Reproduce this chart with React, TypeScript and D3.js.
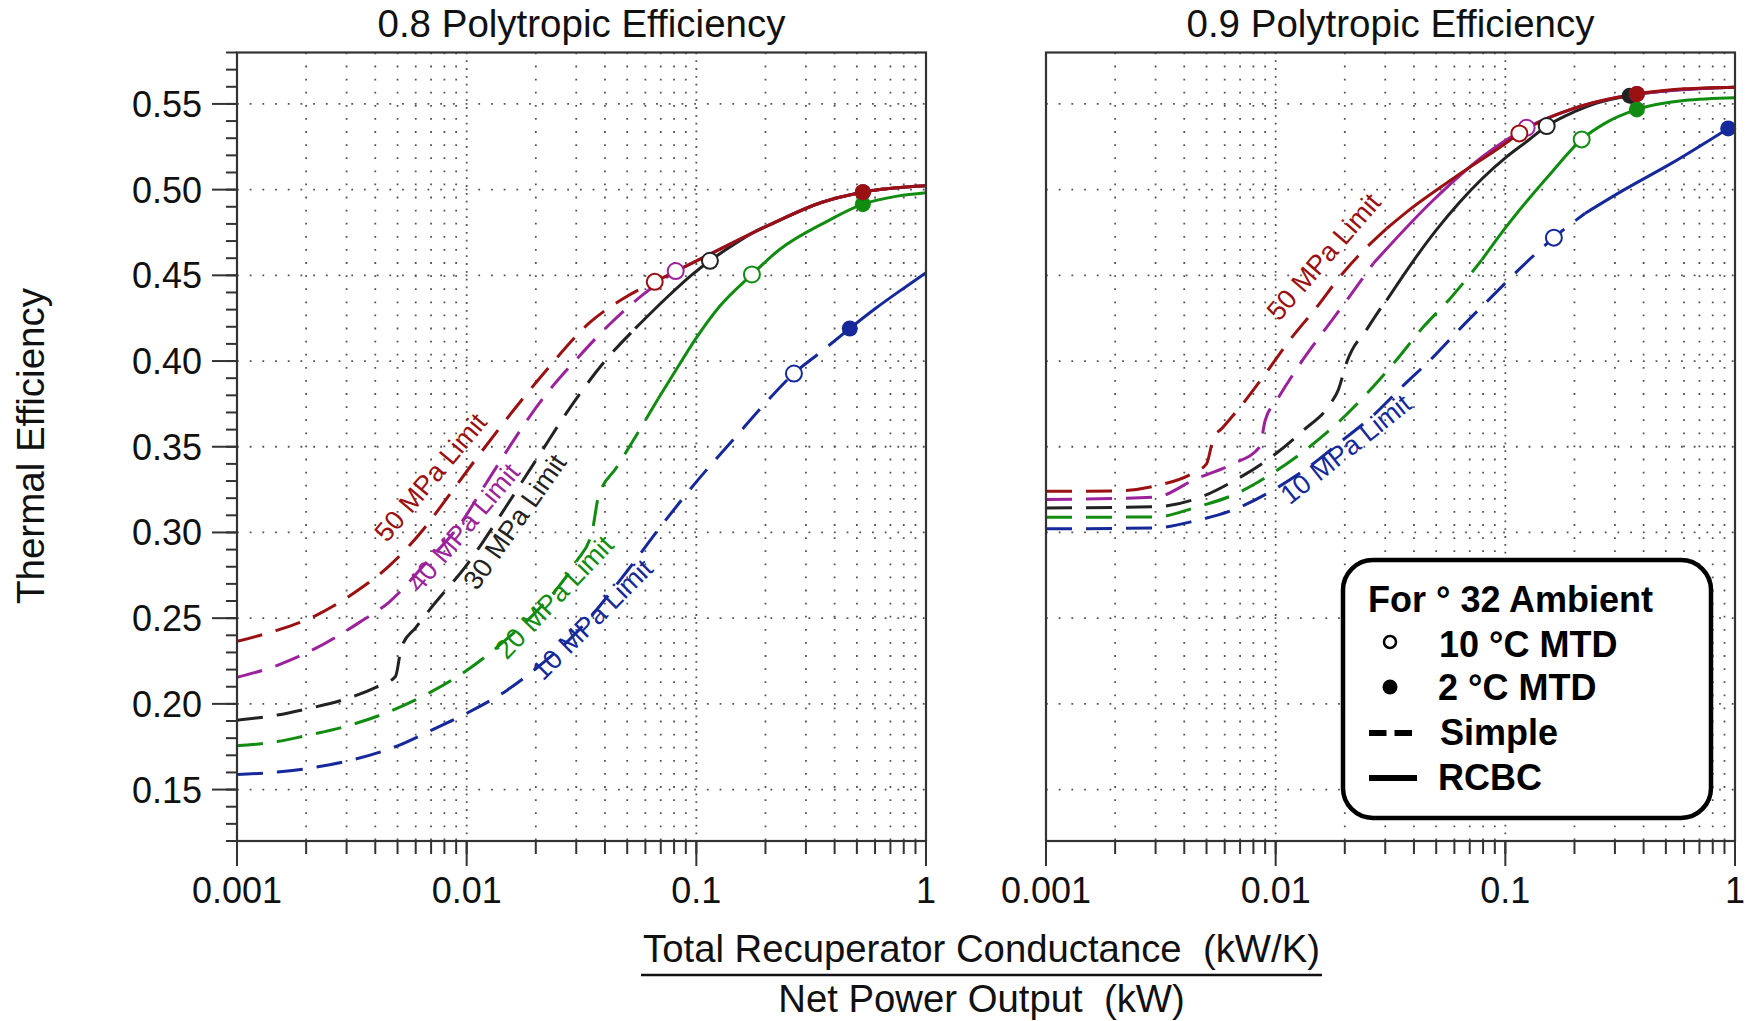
import React from "react";
import * as d3 from "d3";

type Pt = [number, number];

// ---------- shared categories ----------
const pressures = ["10", "20", "30", "40", "50"];
const pressureColors = ["#15299b", "#118c11", "#222222", "#9c229c", "#9b1010"];
const yTickLabels = [0.15, 0.2, 0.25, 0.3, 0.35, 0.4, 0.45, 0.5, 0.55];
const xTickLabels = [0.001, 0.01, 0.1, 1];
const xDomain: [number, number] = [0.001, 1];
const yDomain: [number, number] = [0.12, 0.58];

// ---------- 0.8 polytropic efficiency (left panel) ----------
const e08_10_simple: Pt[] = [[0.001, 0.1588], [0.0015, 0.1602], [0.002, 0.1622], [0.003, 0.1665], [0.005, 0.1755], [0.007, 0.1845], [0.01, 0.1945], [0.015, 0.208], [0.02, 0.2205], [0.03, 0.2415], [0.05, 0.2775], [0.07, 0.3035], [0.1, 0.3295], [0.15, 0.3565], [0.2, 0.3755], [0.266, 0.3927], [0.35, 0.4055], [0.4656, 0.419]];
const e08_10_rcbc: Pt[] = [[0.4656, 0.419], [0.6, 0.4305], [0.8, 0.4425], [1, 0.4515]];
const e08_20_simple: Pt[] = [[0.001, 0.1756], [0.0015, 0.178], [0.002, 0.1815], [0.003, 0.187], [0.005, 0.1975], [0.007, 0.207], [0.01, 0.2195], [0.015, 0.238], [0.02, 0.2535], [0.025, 0.268], [0.03, 0.283], [0.0351, 0.3], [0.0375, 0.321], [0.045, 0.338], [0.055, 0.357], [0.0682, 0.378]];
const e08_20_rcbc: Pt[] = [[0.0682, 0.378], [0.08, 0.393], [0.1, 0.4135], [0.1256, 0.4315], [0.1746, 0.4505], [0.229, 0.4648], [0.3706, 0.4815], [0.531, 0.4915], [0.75, 0.4962], [1, 0.4982]];
const e08_30_simple: Pt[] = [[0.001, 0.1905], [0.0015, 0.1935], [0.002, 0.197], [0.003, 0.203], [0.004, 0.2095], [0.0049, 0.216], [0.0052, 0.233], [0.006, 0.2445], [0.007, 0.256], [0.01, 0.281], [0.015, 0.316], [0.02, 0.342], [0.03, 0.378], [0.04, 0.4], [0.0542, 0.419]];
const e08_30_rcbc: Pt[] = [[0.0542, 0.419], [0.075, 0.4375], [0.095, 0.45], [0.1146, 0.4585], [0.14, 0.4665], [0.18, 0.4755], [0.2164, 0.4805], [0.35, 0.4925], [0.531, 0.4985], [1, 0.5022]];
const e08_40_simple: Pt[] = [[0.001, 0.2155], [0.0015, 0.2225], [0.0021, 0.231], [0.0034, 0.2474], [0.0046, 0.2594], [0.0066, 0.2817], [0.0095, 0.306], [0.0121, 0.3283], [0.022, 0.38], [0.031, 0.403], [0.0427, 0.4225], [0.0593, 0.4393], [0.0813, 0.4525]];
const e08_40_rcbc: Pt[] = [[0.0813, 0.4525], [0.1114, 0.4615], [0.2164, 0.4805], [0.35, 0.4925], [0.531, 0.4985], [1, 0.5022]];
const e08_50_simple: Pt[] = [[0.001, 0.2365], [0.0015, 0.243], [0.0022, 0.2515], [0.0033, 0.2655], [0.0046, 0.2805], [0.0065, 0.302], [0.008, 0.318], [0.011, 0.343], [0.0153, 0.368], [0.0214, 0.392], [0.0346, 0.4228], [0.0481, 0.4365], [0.0659, 0.4462]];
const e08_50_rcbc: Pt[] = [[0.0659, 0.4462], [0.1114, 0.4615], [0.2164, 0.4805], [0.35, 0.4925], [0.531, 0.4985], [1, 0.5022]];
const e08_open: Pt[] = [[0.266, 0.3927], [0.1746, 0.4505], [0.1146, 0.4585], [0.0813, 0.4525], [0.0659, 0.4462]];
const e08_filled: Pt[] = [[0.4656, 0.419], [0.531, 0.4915], [0.531, 0.4985], [0.531, 0.4985], [0.531, 0.4985]];
const e08_labelAt: Pt[] = [[0.0215, 0.2129], [0.01496, 0.2252], [0.0111, 0.2655], [0.00627, 0.2643], [0.0045, 0.2935]];
const e08_labelAngle = [-45, -46.5, -55, -50, -50];

// ---------- 0.9 polytropic efficiency (right panel) ----------
const e09_10_simple: Pt[] = [[0.001, 0.3021], [0.003, 0.3027], [0.0045, 0.3069], [0.0067, 0.3138], [0.0098, 0.3249], [0.0139, 0.3381], [0.019, 0.3525], [0.0266, 0.3683], [0.036, 0.3858], [0.0485, 0.4023], [0.0645, 0.4198], [0.0871, 0.4374], [0.12, 0.456], [0.1627, 0.472], [0.222, 0.4861]];
const e09_10_rcbc: Pt[] = [[0.222, 0.4861], [0.327, 0.4997], [0.528, 0.5153], [0.934, 0.5357]];
const e09_20_simple: Pt[] = [[0.001, 0.3089], [0.003, 0.309], [0.0045, 0.3147], [0.0067, 0.3225], [0.0096, 0.3342], [0.0134, 0.3478], [0.0188, 0.3644], [0.0249, 0.3809], [0.033, 0.3994], [0.0439, 0.4198], [0.0574, 0.4364], [0.079, 0.459]];
const e09_20_rcbc: Pt[] = [[0.079, 0.459], [0.0947, 0.4735], [0.125, 0.4938], [0.16, 0.5105], [0.215, 0.5293], [0.27, 0.5385], [0.374, 0.5468], [0.6, 0.552], [1, 0.5536]];
const e09_30_simple: Pt[] = [[0.001, 0.3143], [0.003, 0.315], [0.0045, 0.3196], [0.0067, 0.3307], [0.0095, 0.3436], [0.0132, 0.3595], [0.0175, 0.376], [0.0187, 0.3829], [0.0204, 0.3994], [0.0253, 0.4198], [0.0289, 0.4315], [0.0304, 0.4354]];
const e09_30_rcbc: Pt[] = [[0.0304, 0.4354], [0.0398, 0.4585], [0.0501, 0.4765], [0.0631, 0.4925], [0.0794, 0.5065], [0.1, 0.5185], [0.126, 0.5288], [0.1514, 0.5371], [0.2, 0.5455], [0.25, 0.5505], [0.348, 0.5548], [0.6, 0.5585], [1, 0.5598]];
const e09_40_simple: Pt[] = [[0.001, 0.3192], [0.0017, 0.3196], [0.003, 0.3206], [0.0045, 0.3313], [0.0065, 0.34], [0.0085, 0.3497], [0.009, 0.3653], [0.0101, 0.377], [0.0128, 0.3985], [0.0159, 0.416], [0.0204, 0.4354], [0.0266, 0.4569]];
const e09_40_rcbc: Pt[] = [[0.0266, 0.4569], [0.0485, 0.4938], [0.08, 0.5195], [0.1238, 0.5361], [0.2, 0.5475], [0.374, 0.5558], [1, 0.5598]];
const e09_50_simple: Pt[] = [[0.001, 0.324], [0.002, 0.3242], [0.003, 0.3272], [0.0043, 0.3342], [0.005, 0.34], [0.00535, 0.3546], [0.0059, 0.3614], [0.007, 0.3731], [0.0088, 0.3906], [0.0115, 0.4121], [0.0151, 0.4315], [0.019, 0.449], [0.025, 0.4666], [0.0304, 0.4773]];
const e09_50_rcbc: Pt[] = [[0.0304, 0.4773], [0.0376, 0.4875], [0.0608, 0.5075], [0.0983, 0.5262], [0.1151, 0.5328], [0.2, 0.5475], [0.374, 0.5558], [0.6, 0.5588], [1, 0.5598]];
const e09_open: Pt[] = [[0.1627, 0.472], [0.215, 0.5293], [0.1514, 0.5371], [0.1238, 0.5361], [0.1151, 0.5328]];
const e09_filled: Pt[] = [[0.934, 0.5357], [0.374, 0.5468], [0.348, 0.5548], [0.374, 0.5558], [0.374, 0.5558]];
const e09_labelAt: Pt[] = [[0.01153, 0.3157], [0.01033, 0.4226]];
const e09_labelIdx = [0, 4];
const e09_labelAngle = [-38.5, -49];

// ---------- layout / style ----------
const W = 1752;
const H = 1021;
const TOP = 52.5;
const BOTTOM = 841;
const FONT = "'Liberation Sans', Arial, Helvetica, sans-serif";
const DASH = "26 14";

type PanelSpec = {
  x0: number;
  x1: number;
  title: string;
  simple: Pt[][];
  rcbc: Pt[][];
  open: Pt[];
  filled: Pt[];
  labelAt: Pt[];
  labelIdx: number[];
  labelAngle: number[];
  yAxis: boolean;
};

const panelSpecs: PanelSpec[] = [
  {
    x0: 237,
    x1: 926,
    title: "0.8 Polytropic Efficiency",
    simple: [e08_10_simple, e08_20_simple, e08_30_simple, e08_40_simple, e08_50_simple],
    rcbc: [e08_10_rcbc, e08_20_rcbc, e08_30_rcbc, e08_40_rcbc, e08_50_rcbc],
    open: e08_open,
    filled: e08_filled,
    labelAt: e08_labelAt,
    labelIdx: [0, 1, 2, 3, 4],
    labelAngle: e08_labelAngle,
    yAxis: true,
  },
  {
    x0: 1046,
    x1: 1735,
    title: "0.9 Polytropic Efficiency",
    simple: [e09_10_simple, e09_20_simple, e09_30_simple, e09_40_simple, e09_50_simple],
    rcbc: [e09_10_rcbc, e09_20_rcbc, e09_30_rcbc, e09_40_rcbc, e09_50_rcbc],
    open: e09_open,
    filled: e09_filled,
    labelAt: e09_labelAt,
    labelIdx: e09_labelIdx,
    labelAngle: e09_labelAngle,
    yAxis: false,
  },
];

function Panel({ spec, id }: { spec: PanelSpec; id: string }) {
  const xs = d3.scaleLog().domain(xDomain).range([spec.x0, spec.x1]);
  const ys = d3.scaleLinear().domain(yDomain).range([BOTTOM, TOP]);
  const line = d3
    .line<Pt>()
    .x((d) => xs(d[0]))
    .y((d) => ys(d[1]))
    .curve(d3.curveMonotoneX);
  const xMinor = xs.ticks().filter((t) => t > xDomain[0] * 1.0001 && t < xDomain[1] * 0.9999);
  const yMinor = d3.range(0, 47).map((i) => +(0.12 + i * 0.01).toFixed(2));
  const order = [0, 1, 2, 3, 4];
  return (
    <g>
      <defs>
        <clipPath id={id}>
          <rect x={spec.x0} y={TOP} width={spec.x1 - spec.x0} height={BOTTOM - TOP} />
        </clipPath>
      </defs>
      {/* grid */}
      <g stroke="#555" strokeWidth={1.8}>
        {yTickLabels.map((v) => (
          <line key={"h" + v} x1={spec.x0} x2={spec.x1} y1={ys(v)} y2={ys(v)} strokeDasharray="1.8 10.9" />
        ))}
        {xMinor.map((t) => {
          const major = Math.abs(Math.log10(t) - Math.round(Math.log10(t))) < 1e-6;
          return (
            <line
              key={"v" + t}
              x1={xs(t)}
              x2={xs(t)}
              y1={TOP}
              y2={BOTTOM}
              strokeDasharray={major ? "1.8 6" : "1.8 11.3"}
            />
          );
        })}
      </g>
      {/* curves */}
      <g clipPath={`url(#${id})`} fill="none" strokeWidth={3} strokeLinecap="butt">
        {order.map((i) => (
          <g key={"c" + i} stroke={pressureColors[i]}>
            <path d={line(spec.simple[i]) || ""} strokeDasharray={DASH} />
            <path d={line(spec.rcbc[i]) || ""} />
          </g>
        ))}
      </g>
      {/* markers */}
      <g>
        {order.map((i) => (
          <circle key={"f" + i} cx={xs(spec.filled[i][0])} cy={ys(spec.filled[i][1])} r={8} fill={pressureColors[i]} />
        ))}
        {order.map((i) => (
          <circle
            key={"o" + i}
            cx={xs(spec.open[i][0])}
            cy={ys(spec.open[i][1])}
            r={8}
            fill="#fff"
            stroke={pressureColors[i]}
            strokeWidth={2}
          />
        ))}
      </g>
      {/* limit labels */}
      {spec.labelAt.map((p, k) => {
        const i = spec.labelIdx[k];
        return (
          <text
            key={"l" + k}
            transform={`translate(${xs(p[0])},${ys(p[1])}) rotate(${spec.labelAngle[k]})`}
            fill={pressureColors[i]}
            fontSize={27}
            fontFamily={FONT}
          >
            {pressures[i]} MPa Limit
          </text>
        );
      })}
      {/* frame */}
      <rect x={spec.x0} y={TOP} width={spec.x1 - spec.x0} height={BOTTOM - TOP} fill="none" stroke="#333" strokeWidth={2.2} />
      {/* x ticks */}
      <g stroke="#333" strokeWidth={2}>
        {xMinor.map((t) => (
          <line key={"xt" + t} x1={xs(t)} x2={xs(t)} y1={BOTTOM} y2={BOTTOM + 13} />
        ))}
        {xTickLabels.map((t) => (
          <line key={"xT" + t} x1={xs(t)} x2={xs(t)} y1={BOTTOM} y2={BOTTOM + 25} />
        ))}
      </g>
      {xTickLabels.map((t) => (
        <text key={"xl" + t} x={xs(t)} y={903} textAnchor="middle" fontSize={36} fontFamily={FONT} fill="#111">
          {String(t)}
        </text>
      ))}
      {/* y ticks */}
      {spec.yAxis && (
        <g stroke="#333" strokeWidth={2}>
          {yMinor.map((v) => (
            <line key={"yt" + v} x1={spec.x0 - 11} x2={spec.x0} y1={ys(v)} y2={ys(v)} />
          ))}
          {yTickLabels.map((v) => (
            <line key={"yT" + v} x1={spec.x0 - 25} x2={spec.x0} y1={ys(v)} y2={ys(v)} />
          ))}
        </g>
      )}
      {spec.yAxis &&
        yTickLabels.map((v) => (
          <text key={"yl" + v} x={spec.x0 - 35} y={ys(v) + 13} textAnchor="end" fontSize={36} fontFamily={FONT} fill="#111">
            {d3.format(".2f")(v)}
          </text>
        ))}
      {/* title */}
      <text x={(spec.x0 + spec.x1) / 2} y={37} textAnchor="middle" fontSize={38.5} fontFamily={FONT} fill="#111">
        {spec.title}
      </text>
    </g>
  );
}

function Legend() {
  return (
    <g fontFamily={FONT} fontWeight="bold" fontSize={36} fill="#000">
      <rect x={1343} y={560} width={368} height={258} rx={30} ry={30} fill="#fff" stroke="#000" strokeWidth={4.5} />
      <text x={1368} y={612}>For ° 32 Ambient</text>
      <circle cx={1390} cy={642} r={6} fill="#fff" stroke="#000" strokeWidth={2.5} />
      <text x={1439} y={657}>10 °C MTD</text>
      <circle cx={1390} cy={687} r={7.5} fill="#000" />
      <text x={1438} y={700}>2 °C MTD</text>
      <line x1={1369} x2={1412} y1={733} y2={733} stroke="#000" strokeWidth={6} strokeDasharray="17.5 8" />
      <text x={1440} y={745}>Simple</text>
      <line x1={1369} x2={1417} y1={778} y2={778} stroke="#000" strokeWidth={6} />
      <text x={1438} y={790}>RCBC</text>
    </g>
  );
}

export default function App() {
  return (
    <svg
      width={W}
      height={H}
      viewBox={`0 0 ${W} ${H}`}
      style={{ position: "absolute", left: 0, top: 0, display: "block", background: "#fff" }}
    >
      <rect x={0} y={0} width={W} height={H} fill="#fff" />
      {panelSpecs.map((s, i) => (
        <Panel key={i} spec={s} id={"clip" + i} />
      ))}
      <Legend />
      <text transform="translate(44,446) rotate(-90)" textAnchor="middle" fontSize={38.5} fontFamily={FONT} fill="#111">
        Thermal Efficiency
      </text>
      <text x={981.5} y={962} textAnchor="middle" fontSize={38.3} fontFamily={FONT} fill="#111">
        Total Recuperator Conductance {"\u00a0"}(kW/K)
      </text>
      <line x1={641} x2={1322} y1={975} y2={975} stroke="#111" strokeWidth={2.5} />
      <text x={981.5} y={1012} textAnchor="middle" fontSize={38.3} fontFamily={FONT} fill="#111">
        Net Power Output {"\u00a0"}(kW)
      </text>
    </svg>
  );
}
